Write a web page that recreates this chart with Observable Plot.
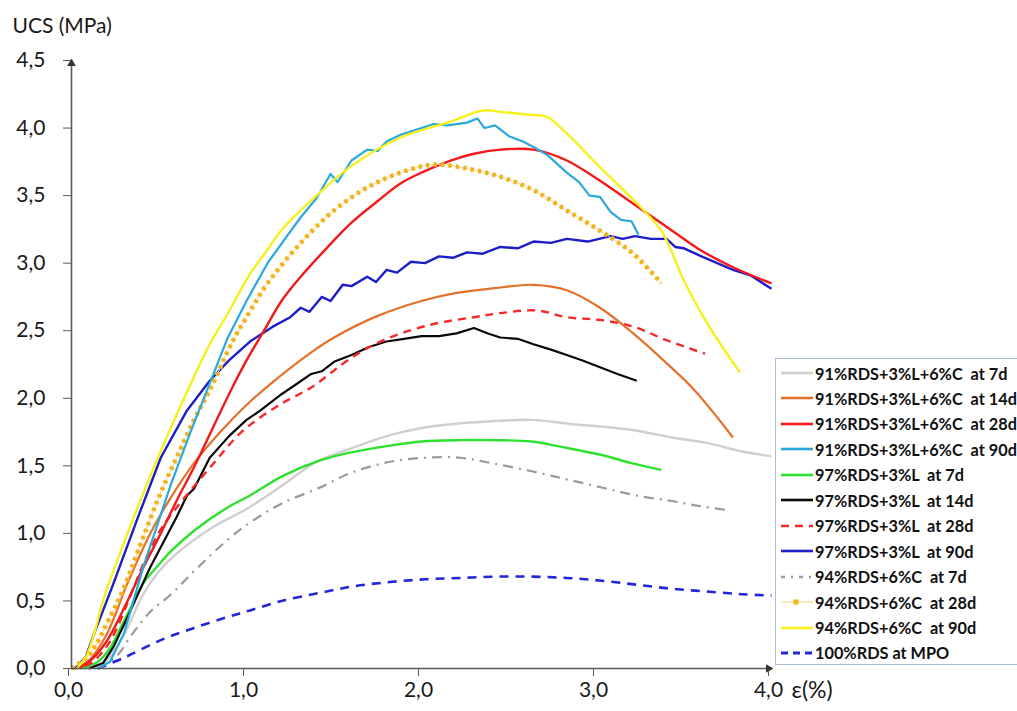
<!DOCTYPE html>
<html><head><meta charset="utf-8">
<script src="https://cdn.jsdelivr.net/npm/d3@7"></script>
<script src="https://cdn.jsdelivr.net/npm/@observablehq/plot@0.6"></script>
<style>
html,body{margin:0;padding:0;background:#fff}
body{width:1017px;height:711px;overflow:hidden;position:relative;font-family:Lato,"Open Sans",sans-serif}
#chart{position:absolute;left:0;top:0}
#legend{position:absolute;left:775px;top:358px;width:262px;height:307px;border:1.5px solid #a9bcd6;background:#fff;box-sizing:border-box}
.row{position:absolute;left:2px;height:22px;display:flex;align-items:center;white-space:pre;font-weight:700;font-size:16.3px;color:#111}
.row svg{margin-right:1px}
</style>
</head><body>
<div id="chart"></div>
<div id="legend"></div>
<script>
// ---- data: strain ε (%) vs UCS (MPa) ----
const s91_7d = [[0.12,0],[0.2,0.06],[0.3,0.25],[0.41,0.55],[0.5,0.72],[0.6,0.85],[0.8,1.04],[1.0,1.18],[1.2,1.35],[1.4,1.53],[1.6,1.63],[1.8,1.72],[2.0,1.78],[2.18,1.81],[2.4,1.83],[2.63,1.84],[2.85,1.81],[3.03,1.79],[3.23,1.76],[3.43,1.71],[3.63,1.67],[3.82,1.61],[4.0,1.57]];
const s91_14d = [[0.02,0],[0.1,0.06],[0.2,0.25],[0.32,0.63],[0.45,1.0],[0.57,1.27],[0.7,1.52],[0.85,1.75],[1.0,1.95],[1.15,2.12],[1.37,2.34],[1.5,2.45],[1.75,2.61],[2.0,2.72],[2.2,2.78],[2.45,2.82],[2.64,2.84],[2.83,2.8],[3.02,2.67],[3.21,2.48],[3.4,2.26],[3.56,2.06],[3.78,1.71]];
const s91_28d = [[0.03,0],[0.1,0.05],[0.2,0.2],[0.32,0.5],[0.4,0.72],[0.51,1.0],[0.6,1.24],[0.7,1.49],[0.8,1.76],[0.9,2.03],[1.0,2.28],[1.1,2.5],[1.2,2.72],[1.31,2.9],[1.45,3.1],[1.6,3.3],[1.75,3.46],[1.88,3.59],[2.0,3.67],[2.17,3.76],[2.3,3.81],[2.45,3.84],[2.64,3.84],[2.83,3.76],[3.02,3.61],[3.21,3.44],[3.4,3.27],[3.59,3.1],[3.78,2.97],[4.0,2.85]];
const s91_90d = [[0.15,0],[0.22,0.05],[0.3,0.26],[0.41,0.75],[0.5,1.1],[0.57,1.37],[0.68,1.75],[0.79,2.11],[0.89,2.44],[1.0,2.72],[1.12,3.0],[1.22,3.18],[1.31,3.34],[1.4,3.48],[1.48,3.66],[1.52,3.6],[1.6,3.76],[1.69,3.84],[1.75,3.83],[1.8,3.9],[1.88,3.95],[2.0,4.0],[2.07,4.03],[2.15,4.02],[2.26,4.04],[2.32,4.07],[2.36,4.0],[2.42,4.02],[2.5,3.94],[2.58,3.9],[2.64,3.86],[2.72,3.8],[2.83,3.67],[2.9,3.6],[2.96,3.5],[3.02,3.49],[3.08,3.38],[3.14,3.32],[3.2,3.31],[3.24,3.21]];
const s97_7d = [[0.05,0],[0.15,0.05],[0.22,0.15],[0.28,0.3],[0.35,0.48],[0.41,0.63],[0.5,0.77],[0.57,0.87],[0.7,1.02],[0.89,1.19],[1.02,1.28],[1.2,1.42],[1.42,1.54],[1.6,1.6],[1.82,1.65],[2.0,1.68],[2.22,1.69],[2.4,1.69],[2.63,1.68],[2.8,1.64],[3.03,1.58],[3.2,1.52],[3.37,1.47]];
const s97_14d = [[0.1,0],[0.18,0.04],[0.24,0.16],[0.32,0.38],[0.45,0.75],[0.6,1.12],[0.66,1.28],[0.7,1.33],[0.79,1.56],[0.9,1.72],[1.0,1.84],[1.08,1.91],[1.2,2.03],[1.28,2.1],[1.37,2.18],[1.43,2.2],[1.5,2.27],[1.6,2.32],[1.7,2.38],[1.8,2.42],[1.9,2.44],[2.0,2.46],[2.1,2.46],[2.2,2.48],[2.3,2.52],[2.38,2.48],[2.45,2.45],[2.55,2.44],[2.64,2.4],[2.74,2.36],[2.83,2.32],[2.92,2.28],[3.02,2.23],[3.12,2.18],[3.23,2.13]];
const s97_28d = [[0,0],[0.1,0.03],[0.2,0.16],[0.26,0.3],[0.34,0.55],[0.42,0.8],[0.51,1.03],[0.6,1.19],[0.8,1.5],[0.98,1.76],[1.2,1.96],[1.37,2.08],[1.6,2.3],[1.8,2.44],[2.07,2.55],[2.3,2.6],[2.45,2.63],[2.66,2.65],[2.83,2.6],[3.02,2.58],[3.21,2.53],[3.4,2.43],[3.62,2.33]];
const s97_90d = [[0.02,0],[0.08,0.08],[0.13,0.26],[0.24,0.63],[0.38,1.12],[0.51,1.56],[0.66,1.91],[0.79,2.13],[0.9,2.28],[1.02,2.42],[1.15,2.53],[1.25,2.6],[1.31,2.67],[1.36,2.64],[1.43,2.75],[1.48,2.72],[1.55,2.84],[1.6,2.83],[1.69,2.9],[1.74,2.86],[1.8,2.95],[1.86,2.93],[1.94,3.01],[2.02,3.0],[2.1,3.05],[2.18,3.04],[2.26,3.08],[2.35,3.07],[2.45,3.12],[2.55,3.11],[2.64,3.16],[2.74,3.15],[2.83,3.18],[2.95,3.16],[3.08,3.2],[3.15,3.18],[3.22,3.2],[3.31,3.18],[3.4,3.18],[3.45,3.12],[3.5,3.11],[3.6,3.05],[3.69,3.0],[3.78,2.95],[3.88,2.91],[4.0,2.81]];
const s94_7d = [[0.15,0],[0.25,0.08],[0.35,0.26],[0.45,0.42],[0.57,0.55],[0.7,0.72],[0.89,0.95],[1.02,1.08],[1.2,1.22],[1.42,1.34],[1.6,1.45],[1.82,1.53],[2.02,1.56],[2.22,1.56],[2.4,1.52],[2.63,1.46],[2.83,1.4],[3.03,1.34],[3.23,1.28],[3.43,1.24],[3.6,1.2],[3.76,1.17]];
const s94_28d = [[0,0],[0.1,0.1],[0.22,0.38],[0.3,0.6],[0.38,0.87],[0.49,1.24],[0.6,1.56],[0.7,1.84],[0.79,2.06],[0.92,2.42],[1.0,2.6],[1.12,2.85],[1.31,3.15],[1.5,3.39],[1.69,3.56],[1.88,3.67],[2.07,3.73],[2.26,3.7],[2.45,3.64],[2.64,3.54],[2.83,3.39],[3.02,3.24],[3.21,3.07],[3.37,2.85]];
const s94_90d = [[0.03,0],[0.08,0.08],[0.13,0.26],[0.18,0.5],[0.32,1.0],[0.51,1.61],[0.7,2.16],[0.79,2.4],[0.89,2.62],[1.02,2.92],[1.12,3.1],[1.21,3.26],[1.4,3.5],[1.6,3.72],[1.88,3.93],[2.17,4.05],[2.35,4.13],[2.45,4.12],[2.6,4.1],[2.72,4.08],[2.83,3.96],[3.02,3.71],[3.21,3.47],[3.37,3.24],[3.5,2.87],[3.63,2.56],[3.82,2.19]];
const s100_MPO = [[0.15,0],[0.3,0.08],[0.51,0.21],[0.7,0.3],[0.89,0.38],[1.02,0.43],[1.2,0.5],[1.42,0.56],[1.62,0.61],[1.82,0.64],[2.02,0.66],[2.22,0.67],[2.42,0.68],[2.63,0.68],[2.83,0.67],[3.03,0.65],[3.23,0.62],[3.43,0.59],[3.63,0.57],[3.83,0.55],[4.0,0.54]];

const seriesNames = ["91%RDS+3%L+6%C  at 7d","91%RDS+3%L+6%C  at 14d","91%RDS+3%L+6%C  at 28d","91%RDS+3%L+6%C  at 90d","97%RDS+3%L  at 7d","97%RDS+3%L  at 14d","97%RDS+3%L  at 28d","97%RDS+3%L  at 90d","94%RDS+6%C  at 7d","94%RDS+6%C  at 28d","94%RDS+6%C  at 90d","100%RDS at MPO"];
const xTicks = [0,1,2,3,4];
const yTicks = [0,0.5,1,1.5,2,2.5,3,3.5,4,4.5];

// ---- styles ----
const seriesData = [s91_7d,s91_14d,s91_28d,s91_90d,s97_7d,s97_14d,s97_28d,s97_90d,s94_7d,s94_28d,s94_90d,s100_MPO];
const colors = ["#cfcfcf","#e2712b","#f21a1a","#29a9de","#2fe02f","#0a0a0a","#f22a2a","#1e1ec8","#9a9a9a","#f2b21e","#f7f01a","#2424d8"];
const dashes = [null,null,null,null,null,null,"8,6",null,"10,6,2,6","3.5,4",null,"9,7"];
const widths = [2.4,2.2,2.4,2.2,2.4,2.2,2.4,2.4,2.2,4.5,2.4,2.6];
const curves = ["catmull-rom","catmull-rom","catmull-rom","linear","catmull-rom","linear","catmull-rom","linear","catmull-rom","catmull-rom","catmull-rom","catmull-rom"];
const drawOrder = [11,8,0,4,5,6,1,7,2,9,3,10];

const fmt = d => d.toFixed(1).replace(".", ",");

const lineMarks = [];
for (const i of drawOrder) {
  if (i === 9) lineMarks.push(Plot.line(seriesData[i], {x: d=>d[0], y: d=>d[1], stroke: "#f7d98a", strokeWidth: 1, curve: curves[i]}));
  lineMarks.push(Plot.line(seriesData[i], {x: d=>d[0], y: d=>d[1], stroke: colors[i], strokeWidth: widths[i], strokeDasharray: dashes[i] || undefined, curve: curves[i], strokeLinecap: "butt"}));
}

const plot = Plot.plot({
  width: 1017, height: 711,
  marginLeft: 71, marginRight: 246, marginTop: 60, marginBottom: 43,
  style: {background: "#fff", fontFamily: "Lato, 'Open Sans', sans-serif", color: "#1a1a1a"},
  x: {domain: [0, 4]},
  y: {domain: [0, 4.5]},
  marks: [
    ...lineMarks,
    Plot.ruleX([0], {stroke: "#5a5a5a", strokeWidth: 1.6}),
    Plot.ruleY([0], {stroke: "#5a5a5a", strokeWidth: 1.6}),
    Plot.axisY({ticks: yTicks, tickFormat: fmt, tickSize: 8, tickPadding: 18, fontSize: 21, label: null, stroke: "#5a5a5a"}),
    Plot.axisX({ticks: xTicks, tickFormat: fmt, tickSize: 8, tickPadding: 6, fontSize: 21, label: null, stroke: "#5a5a5a", dx: -3}),
    Plot.dot([[0, 4.5]], {x: d=>d[0], y: d=>d[1], symbol: "triangle", r: 3.2, fill: "#333", stroke: null, dy: 3}),
    Plot.dot([[4, 0]], {x: d=>d[0], y: d=>d[1], symbol: "triangle", r: 3.2, fill: "#333", stroke: null, rotate: 90, dx: -3}),
    Plot.text(["UCS (MPa)"], {frameAnchor: "top-left", dx: -59, dy: -34, textAnchor: "start", lineAnchor: "middle", fontSize: 21, fill: "#1a1a1a"}),
    Plot.text(["ε(%)"], {frameAnchor: "bottom-right", dx: 20, dy: 22, textAnchor: "start", lineAnchor: "middle", fontSize: 23, fill: "#1a1a1a"})
  ]
});
document.getElementById("chart").appendChild(plot);

// ---- legend ----
const legend = d3.select("#legend");
seriesNames.forEach((name, i) => {
  const row = legend.append("div").attr("class", "row").style("top", (3 + i * 25.45) + "px");
  const svg = row.append("svg").attr("width", 36).attr("height", 20);
  if (i === 9) {
    svg.append("line").attr("x1", 3).attr("x2", 35).attr("y1", 10).attr("y2", 10).attr("stroke", "#f7d98a").attr("stroke-width", 1.2);
    svg.append("rect").attr("x", 15.5).attr("y", 7.5).attr("width", 5).attr("height", 5).attr("fill", colors[i]);
  } else {
    svg.append("line").attr("x1", 3).attr("x2", 35).attr("y1", 10).attr("y2", 10)
      .attr("stroke", colors[i]).attr("stroke-width", i === 11 ? 2.8 : 2.6)
      .attr("stroke-dasharray", i === 6 ? "8,6" : i === 8 ? "4,6,2,6" : i === 11 ? "7,5" : null);
  }
  row.append("span").text(name);
});
</script>
</body></html>
